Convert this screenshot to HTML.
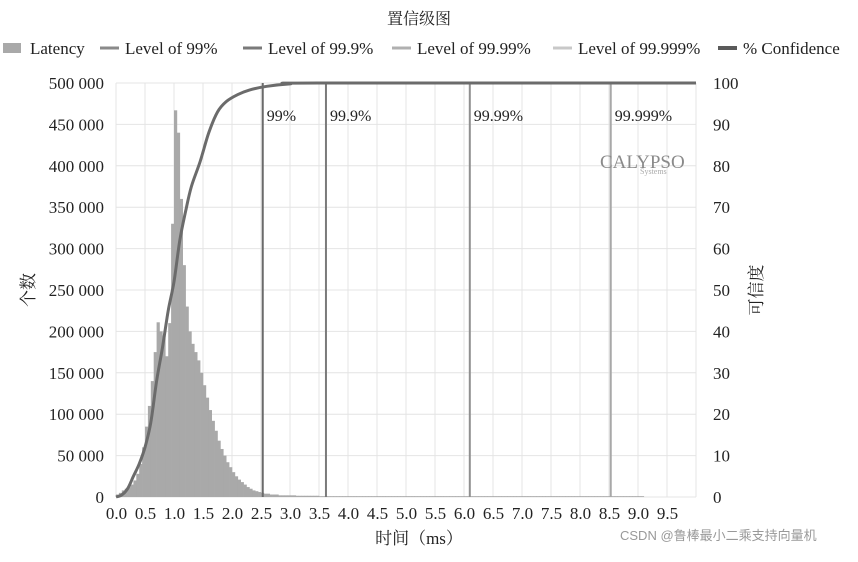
<!DOCTYPE html>
<html><head><meta charset="utf-8"><style>
body{margin:0;background:#fff;width:858px;height:557px;overflow:hidden}
svg text{font-family:"Liberation Serif","Noto Serif CJK SC",serif;fill:#222}
</style></head><body>
<svg id="c" width="858" height="557"></svg>
<script>
const binStart=0, binWidth=0.05;
const latency=[3,5,8,10,12,15,20,28,40,60,85,110,140,175,211,200,195,170,210,330,467,440,360,280,230,200,185,175,165,150,135,120,105,92,80,68,58,50,42,36,30,25,21,18,15,12,10,8,7,6,5,4,4,3,3,3,2,2,2,2,2,2,1.5,1.5,1.5,1.5,1.5,1.5,1.5,1.5,1,1,1,1,1,1,1,1,1,1,1,1,1,1,1,1,1,1,1,1,1,1,1,1,1,1,1,1,1,1,1,1,1,1,1,1,1,1,1,1,1,1,1,1,1,1,1,1,1,1,1,1,1,1,1,1,1,1,1,1,1,1,1,1,1,1,1,1,1,1,1,1,1,1,1,1,1,1,1,1,1,1,1,1,1,1,1,1,1,1,1,1,1,1,1,1,1,1,1,1,1,1,1,1,1,1,1,1,1,1,1,1];
const confX=[0,0.1,0.2,0.3,0.4,0.5,0.6,0.7,0.8,0.9,1.0,1.1,1.2,1.3,1.45,1.6,1.75,1.9,2.1,2.3,2.6,3.0,3.5,10];
const confY=[0,0.5,2,5,8,12,18,28,36,45,52,62,69,75,81,88,93,95.5,97.2,98.3,99.2,99.8,100,100];
const levelNames=["99%","99.9%","99.99%","99.999%"];
const levelX=[2.53,3.62,6.1,8.53];
const levelColors=["#6a6a6a","#7a7a7a","#909090","#a8a8a8"];
const xTicks=["0.0","0.5","1.0","1.5","2.0","2.5","3.0","3.5","4.0","4.5","5.0","5.5","6.0","6.5","7.0","7.5","8.0","8.5","9.0","9.5"];
const yTicks=["0","50 000","100 000","150 000","200 000","250 000","300 000","350 000","400 000","450 000","500 000"];
const y2Ticks=["0","10","20","30","40","50","60","70","80","90","100"];
const X0=116,X1=696,Y0=497,Y1=83;
const xs=v=>X0+v/10*(X1-X0);
const ys=v=>Y0-v/500*(Y0-Y1);
const ys2=v=>Y0-v/100*(Y0-Y1);
const svg=document.getElementById('c');
const NS="http://www.w3.org/2000/svg";
function el(t,a,txt){const e=document.createElementNS(NS,t);for(const k in a)e.setAttribute(k,a[k]);if(txt!==undefined)e.textContent=txt;svg.appendChild(e);return e;}
let t=el('text',{x:419,y:24,'text-anchor':'middle','font-size':16},'置信级图');


for(let i=0;i<=10;i++){let g=el('line',{x1:X0,x2:X1,y1:ys(i*50),y2:ys(i*50),stroke:'#e4e4e4'});

}
for(let i=0;i<=20;i++){let g=el('line',{x1:xs(i*0.5),x2:xs(i*0.5),y1:Y1,y2:Y0,stroke:'#e4e4e4'});

}
latency.forEach((v,i)=>{const x=xs(binStart+i*binWidth);const w=xs(binWidth)-X0;
let b=el('rect',{x:x,y:ys(v),width:w+0.3,height:Y0-ys(v),fill:'#a9a9a9'});

});
levelX.forEach((v,i)=>{let l=el('line',{x1:xs(v),x2:xs(v),y1:Y1,y2:Y0,stroke:levelColors[i],'stroke-width':2});


let tx=el('text',{x:xs(v)+4,y:121,'font-size':16},levelNames[i]);

});
// smooth confidence curve (Catmull-Rom)
const P=confX.map((x,i)=>[xs(x),ys2(confY[i])]);
let d='M'+P[0][0]+','+P[0][1];
for(let i=0;i<P.length-1;i++){const p0=P[i-1]||P[i],p1=P[i],p2=P[i+1],p3=P[i+2]||p2;
 const c1=[p1[0]+(p2[0]-p0[0])/6,p1[1]+(p2[1]-p0[1])/6],c2=[p2[0]-(p3[0]-p1[0])/6,p2[1]-(p3[1]-p1[1])/6];
 d+='C'+c1.join(',')+' '+c2.join(',')+' '+p2.join(',');}
let p=el('path',{d:d,fill:'none',stroke:'#6b6b6b','stroke-width':3,'stroke-linejoin':'round'});


yTicks.forEach((s,i)=>{let a=el('text',{x:104,y:ys(i*50)+6,'text-anchor':'end','font-size':17},s);

});
y2Ticks.forEach((s,i)=>{let a=el('text',{x:713,y:ys2(i*10)+6,'font-size':17},s);

});
xTicks.forEach((s,i)=>{let a=el('text',{x:xs(i*0.5)+0.5,y:519,'text-anchor':'middle','font-size':17},s);

});
let xt=el('text',{x:419,y:544,'text-anchor':'middle','font-size':17},'时间（ms）');


let yt=el('text',{x:0,y:0,transform:'translate(34,290) rotate(-90)','text-anchor':'middle','font-size':17},'个数');


let y2t=el('text',{x:0,y:0,transform:'translate(762,290) rotate(-90)','text-anchor':'middle','font-size':17},'可信度');


const legNames=["Latency","Level of 99%","Level of 99.9%","Level of 99.99%","Level of 99.999%","% Confidence"];
const legX=[3,100,243,392,553,718];
const legCol=["#a9a9a9","#8a8a8a","#7a7a7a","#b0b0b0","#c8c8c8","#5a5a5a"];
legNames.forEach((n,i)=>{
 let g=document.createElementNS(NS,'g');svg.appendChild(g);
 
 
 const sw=document.createElementNS(NS,i===0?'rect':'line');
 if(i===0){sw.setAttribute('x',legX[i]);sw.setAttribute('y',43);sw.setAttribute('width',18);sw.setAttribute('height',10);sw.setAttribute('fill',legCol[i]);}
 else{sw.setAttribute('x1',legX[i]);sw.setAttribute('x2',legX[i]+19);sw.setAttribute('y1',48);sw.setAttribute('y2',48);sw.setAttribute('stroke',legCol[i]);sw.setAttribute('stroke-width',i===5?4:3);}
 g.appendChild(sw);
 const tx=document.createElementNS(NS,'text');tx.setAttribute('x',legX[i]+(i===0?27:25));tx.setAttribute('y',54);tx.setAttribute('font-size',17);tx.textContent=n;g.appendChild(tx);
});
let lg=el('text',{x:600,y:168,'font-size':19,'font-family':'Liberation Sans,sans-serif'},'CALYPSO');


lg.style.fill='#8a8a8a';
let lg2=el('text',{x:640,y:174,'font-size':8},'Systems');
lg2.style.fill='#aaa';


let wm=el('text',{x:620,y:540,'font-size':13},'CSDN @鲁棒最小二乘支持向量机');
wm.style.fill='#999';wm.style.fontFamily='"Liberation Sans","Noto Sans CJK SC",sans-serif';


</script>
</body></html>
